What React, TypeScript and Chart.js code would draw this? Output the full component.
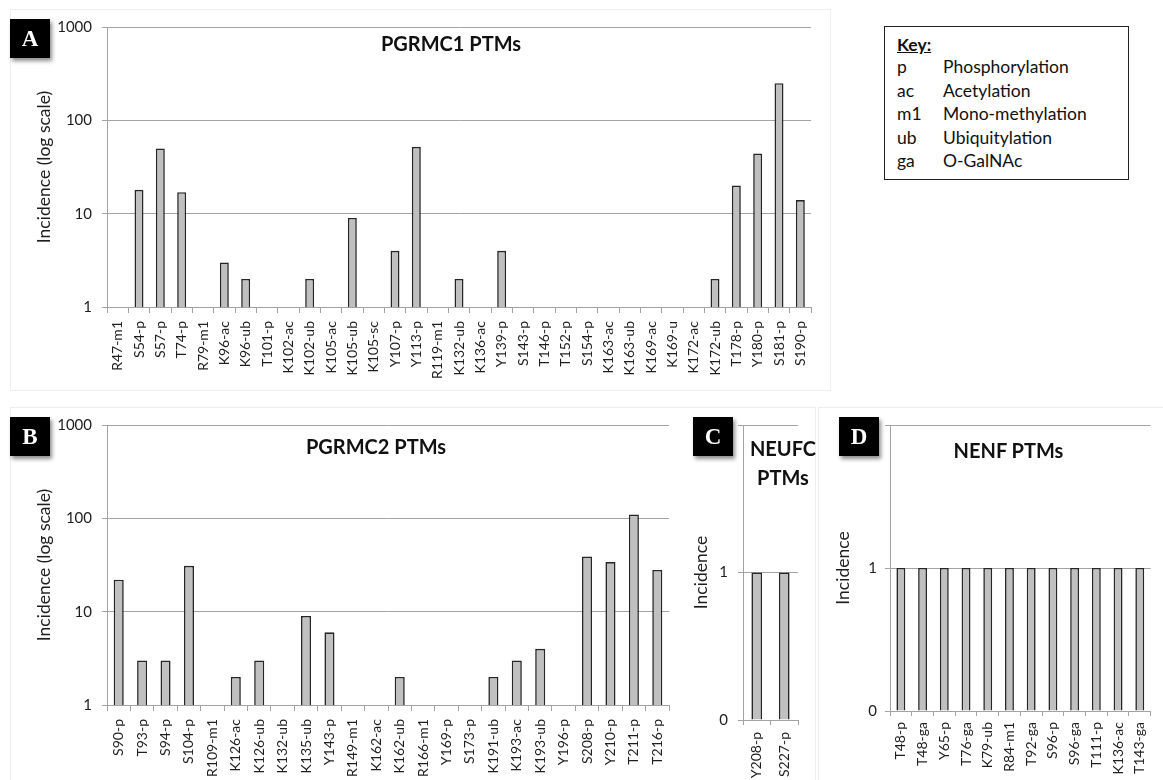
import React, { useEffect, useRef } from 'react';
import { Chart, registerables } from 'chart.js';

Chart.register(...registerables);

// ---------- data ----------
const pgrmc1Labels = [
  'R47-m1', 'S54-p', 'S57-p', 'T74-p', 'R79-m1', 'K96-ac', 'K96-ub', 'T101-p', 'K102-ac', 'K102-ub',
  'K105-ac', 'K105-ub', 'K105-sc', 'Y107-p', 'Y113-p', 'R119-m1', 'K132-ub', 'K136-ac', 'Y139-p', 'S143-p',
  'T146-p', 'T152-p', 'S154-p', 'K163-ac', 'K163-ub', 'K169-ac', 'K169-u', 'K172-ac', 'K172-ub', 'T178-p',
  'Y180-p', 'S181-p', 'S190-p',
];
const pgrmc1Values = [
  1, 18, 50, 17, 1, 3, 2, 1, 1, 2,
  1, 9, 1, 4, 52, 1, 2, 1, 4, 1,
  1, 1, 1, 1, 1, 1, 1, 1, 2, 20,
  44, 250, 14,
];

const pgrmc2Labels = [
  'S90-p', 'T93-p', 'S94-p', 'S104-p', 'R109-m1', 'K126-ac', 'K126-ub', 'K132-ub', 'K135-ub', 'Y143-p',
  'R149-m1', 'K162-ac', 'K162-ub', 'R166-m1', 'Y169-p', 'S173-p', 'K191-ub', 'K193-ac', 'K193-ub', 'Y196-p',
  'S208-p', 'Y210-p', 'T211-p', 'T216-p',
];
const pgrmc2Values = [
  22, 3, 3, 31, 1, 2, 3, 1, 9, 6,
  1, 1, 2, 1, 1, 1, 2, 3, 4, 1,
  39, 34, 110, 28,
];

const neufcLabels = ['Y208-p', 'S227-p'];
const neufcValues = [1, 1];

const nenfLabels = [
  'T48-p', 'T48-ga', 'Y65-p', 'T76-ga', 'K79-ub', 'R84-m1', 'T92-ga', 'S96-p', 'S96-ga', 'T111-p',
  'K136-ac', 'T143-ga',
];
const nenfValues = [1, 1, 1, 1, 1, 1, 1, 1, 1, 1, 1, 1];

const logTicks = [1, 10, 100, 1000];
const linearTicks = [0, 1, 2];
const linearTickLabels = [0, 1];

const keyAbbrevs = ['p', 'ac', 'm1', 'ub', 'ga'];
const keyNames = ['Phosphorylation', 'Acetylation', 'Mono-methylation', 'Ubiquitylation', 'O-GalNAc'];

// ---------- styles ----------
const FONT = 'Lato, "Open Sans", sans-serif';
const GRID = '#a3a3a3';
const TEXT = '#1e1e1e';
const BAR_FILL = '#c0c0c0';
const BAR_EDGE = '#262626';

type PanelProps = {
  left: number; top: number; width: number; height: number;
  labels: string[]; values: number[];
  log: boolean; yTitle: string;
  padL: number; padT: number; padR: number;
  yWidth: number; xHeight: number;
  yTickPad: number; xTickLen: number; xTickPad: number;
  barPct: number;
};

function BarPanel(p: PanelProps) {
  const ref = useRef<HTMLCanvasElement | null>(null);
  useEffect(() => {
    if (!ref.current) return;
    const tickVals = p.log ? logTicks : linearTicks;
    const shown = p.log ? logTicks : linearTickLabels;
    const chart = new Chart(ref.current, {
      type: 'bar',
      data: {
        labels: p.labels,
        datasets: [{
          data: p.values,
          backgroundColor: BAR_FILL,
          borderColor: BAR_EDGE,
          borderWidth: 1.6,
          barPercentage: p.barPct,
          categoryPercentage: 1,
        }],
      },
      options: {
        animation: false,
        responsive: false,
        maintainAspectRatio: false,
        devicePixelRatio: 1,
        layout: { padding: { left: p.padL, top: p.padT, right: p.padR, bottom: 0 } },
        plugins: { legend: { display: false }, tooltip: { enabled: false }, title: { display: false } },
        scales: {
          x: {
            type: 'category',
            grid: { display: true, drawOnChartArea: false, drawTicks: true, tickLength: p.xTickLen, color: GRID, offset: true },
            border: { display: true, color: GRID, width: 1 },
            ticks: {
              autoSkip: false, minRotation: 90, maxRotation: 90, padding: p.xTickPad,
              color: TEXT, font: { family: FONT, size: 14 },
            },
            afterFit: (s: any) => { s.height = p.xHeight; },
          },
          y: {
            type: p.log ? 'logarithmic' : 'linear',
            min: p.log ? 1 : 0,
            max: p.log ? 1000 : 2,
            afterBuildTicks: (s: any) => { s.ticks = tickVals.map((v) => ({ value: v })); },
            afterFit: (s: any) => { s.width = p.yWidth; },
            grid: { color: GRID, lineWidth: 1, drawTicks: true, tickLength: 5 },
            border: { display: true, color: GRID, width: 1 },
            ticks: {
              padding: p.yTickPad,
              color: TEXT,
              font: { family: FONT, size: 15 },
              callback: (v: any) => (shown.includes(Number(v)) ? String(v) : ''),
            },
            title: {
              display: true, text: p.yTitle, color: TEXT,
              font: { family: FONT, size: 17.5, lineHeight: 1.2 },
              padding: { top: 0, bottom: 0 },
            },
          },
        },
      } as any,
    });
    return () => chart.destroy();
  }, []);
  return (
    <canvas
      ref={ref}
      width={p.width}
      height={p.height}
      style={{ position: 'absolute', left: p.left, top: p.top, width: p.width, height: p.height }}
    />
  );
}

function Letter({ x, y, ch }: { x: number; y: number; ch: string }) {
  return (
    <div style={{
      position: 'absolute', left: x, top: y, width: 40, height: 39, background: '#000',
      color: '#fff', fontFamily: '"Liberation Serif", "DejaVu Serif", serif', fontWeight: 'bold',
      fontSize: 23, lineHeight: '39px', textAlign: 'center',
      boxShadow: '2px 3px 4px rgba(0,0,0,0.45)',
    }}>{ch}</div>
  );
}

function Title({ cx, cy, text }: { cx: number; cy: number; text: string }) {
  return (
    <div style={{
      position: 'absolute', left: cx - 100, top: cy - 13, width: 200, height: 26, lineHeight: '26px',
      textAlign: 'center', fontFamily: FONT, fontWeight: 'bold', fontSize: 20, color: '#111',
    }}>{text}</div>
  );
}

export default function App() {
  return (
    <div style={{ position: 'absolute', left: 0, top: 0, width: 1163, height: 780, background: '#fff', overflow: 'hidden' }}>
      {/* faint panel frames */}
      <div style={{ position: 'absolute', left: 10, top: 9, width: 819, height: 380, border: '1px solid #eeeeee' }} />
      <div style={{ position: 'absolute', left: 10, top: 407, width: 804, height: 400, border: '1px solid #eeeeee' }} />
      <div style={{ position: 'absolute', left: 818, top: 407, width: 400, height: 400, border: '1px solid #eeeeee' }} />

      <BarPanel left={0} top={0} width={830} height={390}
        labels={pgrmc1Labels} values={pgrmc1Values} log yTitle="Incidence (log scale)"
        padL={33.5} padT={27} padR={19} yWidth={73.5} xHeight={83}
        yTickPad={10} xTickLen={6} xTickPad={8} barPct={0.42} />
      <BarPanel left={0} top={398} width={690} height={382}
        labels={pgrmc2Labels} values={pgrmc2Values} log yTitle="Incidence (log scale)"
        padL={33.5} padT={27} padR={21} yWidth={73.5} xHeight={75}
        yTickPad={10} xTickLen={6} xTickPad={8} barPct={0.43} />
      <BarPanel left={690} top={398} width={125} height={382}
        labels={neufcLabels} values={neufcValues} log={false} yTitle="Incidence"
        padL={1.2} padT={27} padR={17} yWidth={51.8} xHeight={60}
        yTickPad={10} xTickLen={5} xTickPad={7} barPct={0.39} />
      <BarPanel left={815} top={398} width={348} height={382}
        labels={nenfLabels} values={nenfValues} log={false} yTitle="Incidence"
        padL={17.5} padT={27} padR={10} yWidth={57.5} xHeight={69}
        yTickPad={8} xTickLen={5} xTickPad={6} barPct={0.41} />

      <Title cx={451} cy={43} text="PGRMC1 PTMs" />
      <Title cx={376} cy={445.5} text="PGRMC2 PTMs" />
      <div style={{
        position: 'absolute', left: 733, top: 434, width: 100, textAlign: 'center', fontFamily: FONT,
        fontWeight: 'bold', fontSize: 20, lineHeight: '28.5px', color: '#111',
      }}>NEUFC<br />PTMs</div>
      <Title cx={1008.5} cy={449.5} text="NENF PTMs" />

      <Letter x={10} y={19} ch="A" />
      <Letter x={10} y={417} ch="B" />
      <Letter x={693} y={417} ch="C" />
      <Letter x={839} y={417} ch="D" />

      {/* key */}
      <div style={{ position: 'absolute', left: 884, top: 26, width: 243, height: 152, border: '1px solid #222', fontFamily: FONT, fontSize: 17.5, color: '#111' }}>
        <div style={{ position: 'absolute', left: 12, top: 7, lineHeight: '22px', fontWeight: 'bold', textDecoration: 'underline' }}>Key:</div>
        {keyAbbrevs.map((a, i) => (
          <React.Fragment key={a}>
            <div style={{ position: 'absolute', left: 12, top: 29 + i * 23.6, lineHeight: '22px' }}>{a}</div>
            <div style={{ position: 'absolute', left: 58, top: 29 + i * 23.6, lineHeight: '22px' }}>{keyNames[i]}</div>
          </React.Fragment>
        ))}
      </div>
    </div>
  );
}
